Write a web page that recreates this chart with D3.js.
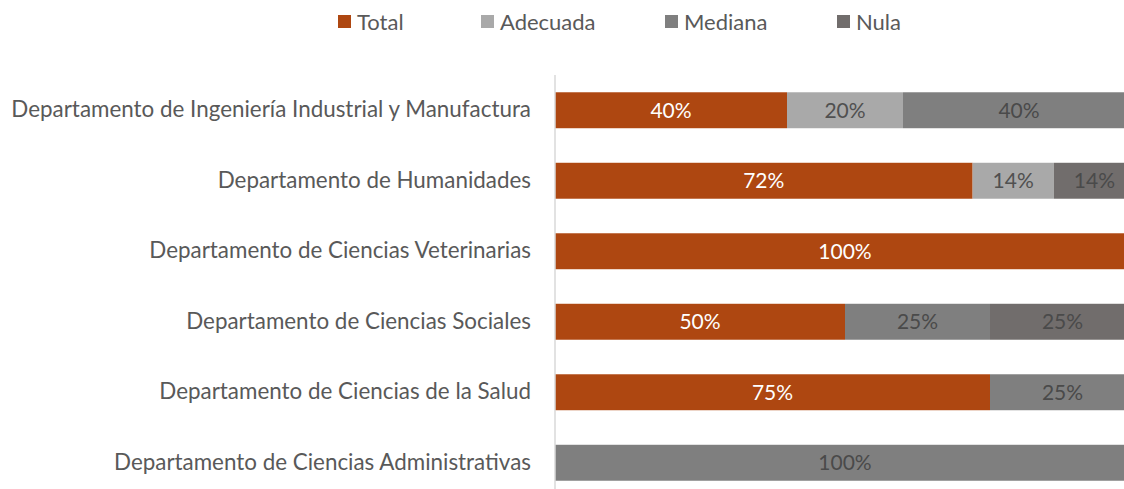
<!DOCTYPE html>
<html><head><meta charset="utf-8">
<script src="https://cdn.jsdelivr.net/npm/d3@7"></script>
<style>body{margin:0;background:#fff}svg{display:block}</style>
</head><body>
<svg id="c" width="1124" height="489"></svg>
<script>
const categories = [
  "Departamento de Ingeniería Industrial y Manufactura",
  "Departamento de Humanidades",
  "Departamento de Ciencias Veterinarias",
  "Departamento de Ciencias Sociales",
  "Departamento de Ciencias de la Salud",
  "Departamento de Ciencias Administrativas"
];
const seriesNames = ["Total", "Adecuada", "Mediana", "Nula"];
const total    = [40, 72, 100, 50, 75, 0];
const adecuada = [20, 14, 0, 0, 0, 0];
const mediana  = [40, 0, 0, 25, 25, 100];
const nula     = [0, 14, 0, 25, 0, 0];
const colors = ["#AE4711", "#A9A9A9", "#7F7F7F", "#716D6C"];
const labelColors = ["#ffffff", "#505050", "#4a4a4a", "#4a4a4a"];

const svg = d3.select("#c");
const font = "Lato, 'Open Sans', sans-serif";
const x = d3.scaleLinear().domain([0, 100]).range([555, 1135]);
const y = d3.scaleBand().domain(categories).range([75, 498]).paddingInner(0.49).paddingOuter(0.245);

const rows = categories.map((c, i) => ({cat: c, Total: total[i], Adecuada: adecuada[i], Mediana: mediana[i], Nula: nula[i]}));
const stack = d3.stack().keys(seriesNames)(rows);

stack.forEach((s, si) => {
  const g = svg.append("g");
  s.forEach(d => {
    const w = x(d[1]) - x(d[0]);
    if (w <= 0) return;
    g.append("rect").attr("x", x(d[0])).attr("y", y(d.data.cat))
      .attr("width", w).attr("height", y.bandwidth()).attr("fill", colors[si]);
    g.append("text")
      .attr("x", (x(d[0]) + x(d[1])) / 2)
      .attr("y", y(d.data.cat) + y.bandwidth() / 2).attr("dy", "0.36em")
      .attr("text-anchor", "middle").attr("font-family", font).attr("font-size", 21)
      .attr("fill", labelColors[si]).text(d3.format("d")(d[1] - d[0]) + "%");
  });
});

// axis line
svg.append("line").attr("x1", 555).attr("x2", 555).attr("y1", 75).attr("y2", 489)
  .attr("stroke", "#d9d9d9").attr("stroke-width", 1.5);

// category labels
const yAxis = d3.axisLeft(y).tickSize(0).tickPadding(24);
const ga = svg.append("g").attr("transform", "translate(555,0)").call(yAxis);
ga.select(".domain").remove();
ga.selectAll("text").attr("font-family", font).attr("font-size", 22.4).attr("fill", "#595959");

// legend
const legendX = [338, 481, 665, 837];
const lg = svg.append("g");
seriesNames.forEach((n, i) => {
  lg.append("rect").attr("x", legendX[i]).attr("y", 15).attr("width", 13).attr("height", 13).attr("fill", colors[i]);
  lg.append("text").attr("x", legendX[i] + 19).attr("y", 22).attr("dy", "0.36em")
    .attr("font-family", font).attr("font-size", 22).attr("fill", "#595959").text(n);
});
</script>
</body></html>
